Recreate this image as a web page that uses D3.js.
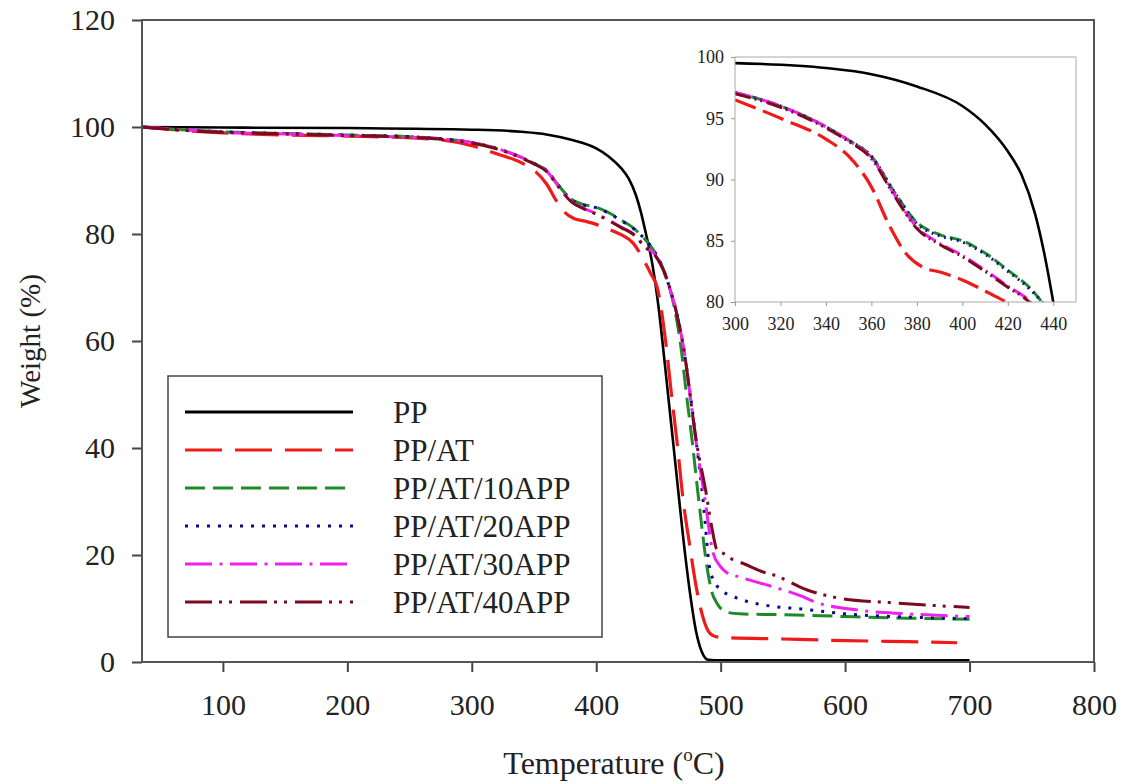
<!DOCTYPE html>
<html lang="en">
<head>
<meta charset="UTF-8">
<title>TGA curves</title>
<script src="https://cdn.jsdelivr.net/npm/d3@7"></script>
<style>
  body { margin: 0; background: #fff; }
  svg text { font-family: "Liberation Serif", "Times New Roman", serif; fill: #222; }
</style>
</head>
<body>
<svg id="chart" width="1123" height="784"></svg>
<script>
// series names shown in the legend
const seriesNames = ['PP', 'PP/AT', 'PP/AT/10APP', 'PP/AT/20APP', 'PP/AT/30APP', 'PP/AT/40APP'];

// [temperature (C), weight (%)]
const ppData = [[35,100],[100,99.9],[200,99.8],[300,99.5],[340,99.1],[360,98.6],[380,97.6],[400,96.0],[410,94.5],[420,92.3],[426,90.4],[432,87.2],[436,84],[440,80],[445,74.5],[450,66.5],[455,56],[460,45],[465,34],[470,23],[475,13.5],[480,6],[485,1.8],[490,0.4],[500,0.3],[600,0.3],[700,0.3]];
const ppatData = [[35,100],[60,99.5],[100,98.9],[150,98.5],[200,98.3],[270,97.7],[300,96.5],[320,95.0],[340,93.3],[350,91.9],[360,89.4],[368,86.2],[375,84.0],[382,82.9],[391,82.4],[400,81.8],[412,80.7],[420,79.9],[430,78.2],[438,75.2],[444,72.5],[449,70],[456,59.5],[460,51],[465,41],[470,30],[475,22],[480,14.5],[485,9],[490,5.8],[495,4.8],[500,4.6],[550,4.3],[600,4.0],[650,3.8],[690,3.6]];
const app10Data = [[35,100],[60,99.6],[100,99.1],[150,98.8],[200,98.5],[250,98.2],[270,97.9],[300,97.1],[320,96.0],[340,94.3],[350,93.2],[360,91.9],[370,89],[380,86.5],[390,85.5],[400,85.0],[410,84],[420,82.6],[430,81.1],[435,80],[440,78.8],[446,77],[457,71.4],[463,66],[468,59],[472,51],[477,41.5],[483,29],[489,17.8],[493,13],[497,11],[501,9.8],[505,9.3],[515,9.0],[560,8.8],[600,8.5],[650,8.2],[700,8.0]];
const app20Data = [[35,100],[60,99.6],[100,99.1],[150,98.8],[200,98.5],[250,98.2],[270,97.9],[300,97.1],[320,96.0],[340,94.3],[350,93.2],[360,91.9],[370,89],[380,86.4],[390,85.4],[400,84.9],[410,83.9],[420,82.5],[430,81.0],[435,80],[440,78.8],[446,77],[457,71.4],[470,59],[475,51],[481,40],[486,30],[491,17.8],[495,15],[500,13.5],[507,12.5],[515,11.8],[525,11.1],[542,10.4],[565,9.9],[600,9.0],[650,8.4],[700,8.1]];
const app30Data = [[35,100],[60,99.6],[100,99.0],[150,98.7],[200,98.4],[250,98.1],[270,97.9],[300,97.1],[320,96.0],[340,94.3],[350,93.2],[360,91.8],[370,88.8],[380,86.1],[390,84.8],[400,83.8],[410,82.6],[420,81.3],[430,80.0],[440,77.5],[446,76.5],[457,71.4],[470,59],[481,40],[487,31],[494,20.3],[500,17.8],[505,16.7],[515,15.9],[540,14.2],[565,12.3],[575,11.3],[610,9.7],[650,9.0],[700,8.5]];
const app40Data = [[35,100],[60,99.5],[100,99.0],[150,98.7],[200,98.4],[250,98.1],[270,97.8],[300,97.0],[320,95.9],[340,94.2],[350,93.1],[360,91.7],[370,88.7],[380,86.0],[390,84.7],[400,83.7],[410,82.5],[420,81.2],[430,79.9],[440,77.4],[446,76.4],[457,71.4],[470,59],[481,40.5],[488,32],[493,25],[497,21],[503,20.2],[510,19.1],[516,18.6],[537,16.6],[542,16.3],[569,13.5],[596,11.9],[636,11.1],[700,10.2]];

const xTicks = [100, 200, 300, 400, 500, 600, 700, 800];
const yTicks = [0, 20, 40, 60, 80, 100, 120];
const insetXTicks = [300, 320, 340, 360, 380, 400, 420, 440];
const insetYTicks = [80, 85, 90, 95, 100];

const allData = [ppData, ppatData, app10Data, app20Data, app30Data, app40Data];
const colors = ['#000000', '#f01a1a', '#1f8a2a', '#0a0a90', '#f020f0', '#7a0a1e'];
const dashes = [[], [37,13], [20,8], [3,8], [27,7.5,3,7.5], [27,7,3,7,3,8]];
const widths = [2.6, 3.2, 3, 3, 3, 3];

const dashStr = (d, k) => d.length ? d.map(v => v * k).join(',') : 'none';

const svg = d3.select('#chart');

const x = d3.scaleLinear().domain([35, 800]).range([142, 1094]);
const y = d3.scaleLinear().domain([0, 120]).range([662, 20]);

svg.append('clipPath').attr('id', 'mainClip')
  .append('rect').attr('x', 142).attr('y', 20).attr('width', 952).attr('height', 642);

// main curves
const line = d3.line().x(d => x(d[0])).y(d => y(d[1])).curve(d3.curveMonotoneX);
const main = svg.append('g').attr('clip-path', 'url(#mainClip)');
allData.forEach((data, i) => {
  main.append('path')
    .attr('d', line(data))
    .attr('fill', 'none')
    .attr('stroke', colors[i])
    .attr('stroke-width', widths[i])
    .attr('stroke-dasharray', dashStr(dashes[i], 1));
});

// axes
const xAxis = svg.append('g').attr('transform', 'translate(0,662)')
  .call(d3.axisBottom(x).tickValues(xTicks).tickSize(10).tickSizeOuter(0).tickPadding(22));
const yAxis = svg.append('g').attr('transform', 'translate(142,0)')
  .call(d3.axisLeft(y).tickValues(yTicks).tickSize(10).tickSizeOuter(0).tickPadding(17));
[xAxis, yAxis].forEach(a => {
  a.select('.domain').remove();
  a.selectAll('line').attr('stroke', '#444').attr('stroke-width', 2);
  a.selectAll('text').attr('font-size', 30).attr('fill', '#222')
    .style('font-family', '"Liberation Serif", serif');
});

// frame
svg.append('rect').attr('x', 142).attr('y', 20).attr('width', 952).attr('height', 642)
  .attr('fill', 'none').attr('stroke', '#555').attr('stroke-width', 2);

// axis titles
svg.append('text')
  .attr('transform', 'translate(30,341) rotate(-90)')
  .attr('text-anchor', 'middle').attr('dy', '0.35em')
  .attr('font-size', 29)
  .text('Weight (%)');

const xt = svg.append('text')
  .attr('x', 614).attr('y', 774)
  .attr('text-anchor', 'middle')
  .attr('font-size', 32);
xt.append('tspan').text('Temperature (');
xt.append('tspan').attr('font-size', 19).attr('dy', -13).text('o');
xt.append('tspan').attr('dy', 13).text('C)');

// legend
const legend = svg.append('g');
legend.append('rect').attr('x', 168).attr('y', 376).attr('width', 434).attr('height', 261)
  .attr('fill', '#fff').attr('stroke', '#444').attr('stroke-width', 1.5);
seriesNames.forEach((name, i) => {
  const ry = 412 + i * 38;
  legend.append('line')
    .attr('x1', 185).attr('x2', 353).attr('y1', ry).attr('y2', ry)
    .attr('stroke', colors[i]).attr('stroke-width', 3.2)
    .attr('stroke-dasharray', dashStr(dashes[i], 1));
  legend.append('text')
    .attr('x', 393).attr('y', ry).attr('dy', '0.35em')
    .attr('font-size', 31)
    .text(name);
});

// inset: zoom on 300-450 C
const x2 = d3.scaleLinear().domain([300, 450]).range([735, 1076]);
const y2 = d3.scaleLinear().domain([80, 100]).range([302, 57]);

svg.append('rect').attr('x', 697).attr('y', 44).attr('width', 395).attr('height', 300).attr('fill', '#fff');

svg.append('clipPath').attr('id', 'insetClip')
  .append('rect').attr('x', 735).attr('y', 57).attr('width', 341).attr('height', 245);

const line2 = d3.line().x(d => x2(d[0])).y(d => y2(d[1])).curve(d3.curveMonotoneX);
const inset = svg.append('g').attr('clip-path', 'url(#insetClip)');
allData.forEach((data, i) => {
  inset.append('path')
    .attr('d', line2(data.filter(d => d[0] >= 280 && d[0] <= 460)))
    .attr('fill', 'none')
    .attr('stroke', colors[i])
    .attr('stroke-width', widths[i])
    .attr('stroke-dasharray', dashStr(dashes[i], 0.6));
});

svg.append('rect').attr('x', 735).attr('y', 57).attr('width', 341).attr('height', 245)
  .attr('fill', 'none').attr('stroke', '#aaa').attr('stroke-width', 1);

const ix = svg.append('g').attr('transform', 'translate(0,302)')
  .call(d3.axisBottom(x2).tickValues(insetXTicks).tickSize(4).tickSizeOuter(0).tickPadding(11));
const iy = svg.append('g').attr('transform', 'translate(735,0)')
  .call(d3.axisLeft(y2).tickValues(insetYTicks).tickSize(4).tickSizeOuter(0).tickPadding(7));
[ix, iy].forEach(a => {
  a.select('.domain').remove();
  a.selectAll('line').attr('stroke', '#999');
  a.selectAll('text').attr('font-size', 18).attr('fill', '#333')
    .style('font-family', '"Liberation Serif", serif');
});
</script>
</body>
</html>
